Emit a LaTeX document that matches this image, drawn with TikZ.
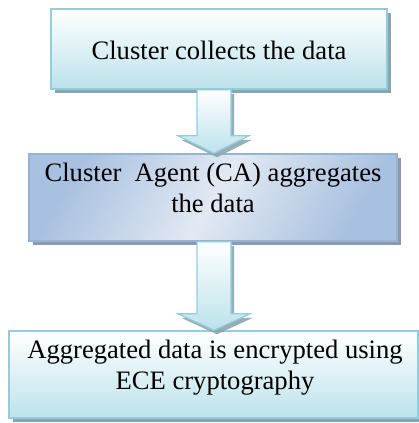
\documentclass[tikz,border=0pt]{standalone}
\usepackage{fontspec}
\setmainfont{Liberation Serif}
\usetikzlibrary{shadows,calc}
\definecolor{bordA}{HTML}{93CDDD}
\definecolor{fillA}{HTML}{BCE2EB}
\definecolor{shadA}{HTML}{8AA6AD}
\definecolor{bordB}{HTML}{95B3D7}
\definecolor{fillB}{HTML}{A9C1E0}
\definecolor{fillBl}{HTML}{E2E9F3}
\definecolor{shadB}{HTML}{8C9AAE}
\tikzset{
  boxA/.style={draw=bordA, line width=1.5pt, top color=white, bottom color=fillA, inner sep=0pt,
     drop shadow={shadow xshift=3.5pt, shadow yshift=-3.5pt, fill=shadA, opacity=1}},
  boxB/.style={draw=bordB, line width=1.5pt, left color=fillB, right color=fillB, middle color=fillBl,
     shading angle=60, inner sep=0pt,
     drop shadow={shadow xshift=3.5pt, shadow yshift=-3.5pt, fill=shadB, opacity=1}},
  txt/.style={font=\fontsize{26.6}{31}\selectfont, align=center, inner sep=0pt, anchor=base},
  flow/.style={draw=bordA, line width=1.2pt, top color=white, bottom color=fillA, line join=miter,
     drop shadow={shadow xshift=3pt, shadow yshift=-4pt, fill=shadA, opacity=0.9}}
}
\begin{document}
\begin{tikzpicture}[x=1pt,y=-1pt]
\useasboundingbox (0,0) rectangle (419,423);
% boxes
\node[boxA, minimum width=336pt, minimum height=80pt] (b1) at (219,49) {};
\node[boxB, minimum width=368pt, minimum height=87pt] (b2) at (213,197.5) {};
\node[boxA, minimum width=409pt, minimum height=87pt] (b3) at (213.5,374.5) {};
% arrows
\draw[flow] ($(b1.south)+(-22,0)$) -- ++(34,0) -- ++(0,46) -- ++(18,0)
   -- ($(b2.north)+(1,0)$) -- ($(b1.south)+(-41,46)$) -- ++(19,0) -- cycle;
\draw[flow] ($(b2.south)+(-16,0)$) -- ++(34,0) -- ++(0,72) -- ++(19,0)
   -- ($(b3.north)+(0.5,0)$) -- ($(b2.south)+(-35,72)$) -- ++(19,0) -- cycle;
% texts
\node[txt] (t1) at (219,59) {Cluster collects the data};
\node[txt] (t2) at (213,212) {Cluster~ Agent (CA) aggregates\\the data};
\node[txt] (t3) at (215,389) {Aggregated data is encrypted using\\ECE cryptography};
\end{tikzpicture}
\end{document}
